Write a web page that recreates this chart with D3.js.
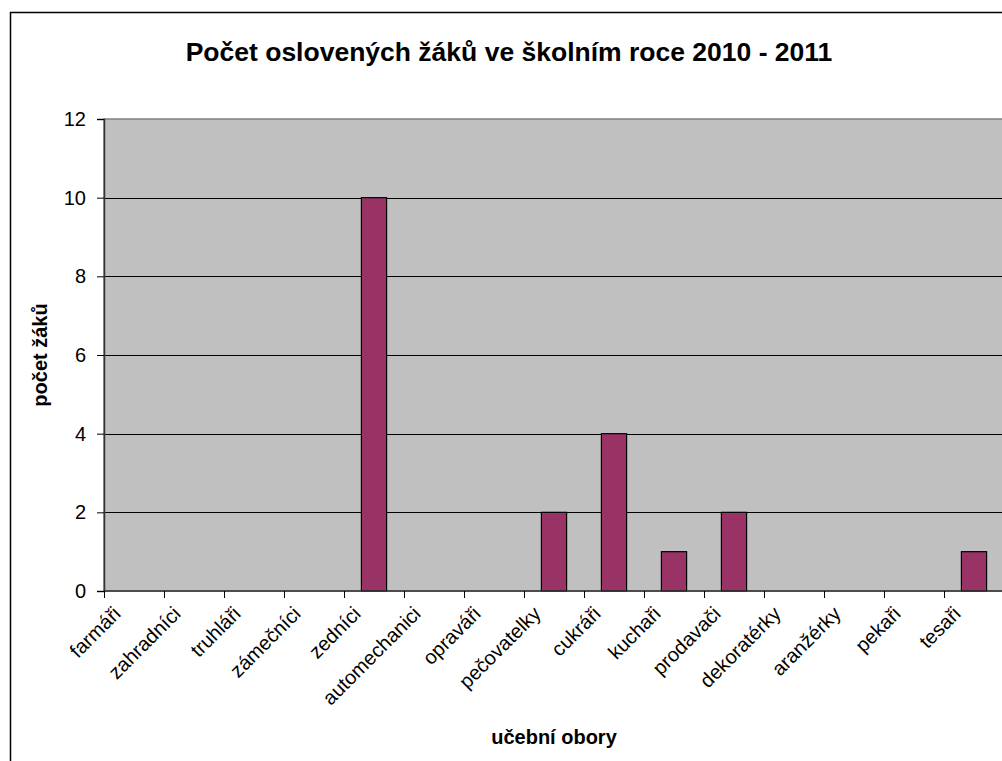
<!DOCTYPE html>
<html>
<head>
<meta charset="utf-8">
<script src="https://cdn.jsdelivr.net/npm/d3@7"></script>
<style>
  body { margin: 0; background: #fff; }
  text { font-family: "Liberation Sans", Arial, sans-serif; fill: #000; }
</style>
</head>
<body>
<div id="chart"></div>
<script>
const categories = ['farmáři', 'zahradníci', 'truhláři', 'zámečníci', 'zedníci', 'automechanici',
  'opraváři', 'pečovatelky', 'cukráři', 'kuchaři', 'prodavači', 'dekoratérky', 'aranžérky', 'pekaři', 'tesaři']
const values = [0, 0, 0, 0, 10, 0, 0, 2, 4, 1, 2, 0, 0, 0, 1]
const yTicks = [0, 2, 4, 6, 8, 10, 12]
const title = 'Počet oslovených žáků ve školním roce 2010 - 2011'
const xTitle = 'učební obory'
const yTitle = 'počet žáků'

const svgWidth = 1002
const svgHeight = 761
const plotL = 104, plotR = 1004, plotT = 119, plotB = 591

let svg = d3.select('#chart')
  .append('svg')
  .attr('width', svgWidth)
  .attr('height', svgHeight)

// outer chart frame (runs past the window on right and bottom)
svg.append('rect')
  .attr('x', 10.5).attr('y', 12.5)
  .attr('width', 1100).attr('height', 900)
  .attr('fill', '#fff')
  .attr('stroke', '#000')
  .attr('stroke-width', 1.5)

// category slots, and bars inside them
let xCat = d3.scaleBand().domain(categories).range([plotL, plotR]).padding(0)
let xBar = d3.scaleBand().domain(categories).range([plotL, plotR])
  .paddingInner(0.58).paddingOuter(0.29)

let yScale = d3.scaleLinear().domain([0, 12]).range([plotB, plotT])

// plot background
svg.append('rect')
  .attr('x', plotL).attr('y', plotT)
  .attr('width', plotR - plotL).attr('height', plotB - plotT)
  .attr('fill', '#c0c0c0')
  .attr('stroke', '#808080')
  .attr('stroke-width', 1.5)

// gridlines
svg.append('g')
  .selectAll('line')
  .data(yTicks.filter(d => d > 0 && d < 12))
  .enter().append('line')
  .attr('x1', plotL).attr('x2', plotR)
  .attr('y1', d => Math.round(yScale(d)) + 0.5)
  .attr('y2', d => Math.round(yScale(d)) + 0.5)
  .attr('stroke', '#000')

// bars
svg.append('g')
  .selectAll('rect')
  .data(values.map((v, i) => ({ c: categories[i], v: v })).filter(d => d.v > 0))
  .enter().append('rect')
  .attr('x', d => xBar(d.c))
  .attr('y', d => yScale(d.v))
  .attr('width', xBar.bandwidth())
  .attr('height', d => yScale(0) - yScale(d.v))
  .attr('fill', '#993366')
  .attr('stroke', '#000')
  .attr('stroke-width', 1.2)

// y axis
let yAxis = svg.append('g')
  .attr('transform', 'translate(' + plotL + ',0)')
  .call(d3.axisLeft(yScale).tickValues(yTicks).tickSize(7).tickPadding(11).tickFormat(d3.format('d')))
yAxis.select('.domain').attr('stroke', '#333').attr('stroke-width', 1.5)
yAxis.selectAll('.tick line').attr('stroke', '#000')
yAxis.selectAll('.tick text')
  .style('font-family', '"Liberation Sans", Arial, sans-serif')
  .style('font-size', '20px')
  .attr('fill', '#000')

// x axis line and ticks between categories
let xAxis = svg.append('g')
xAxis.append('line')
  .attr('x1', plotL).attr('x2', plotR)
  .attr('y1', plotB).attr('y2', plotB)
  .attr('stroke', '#333').attr('stroke-width', 1.5)
xAxis.selectAll('line.tk')
  .data(categories.concat(['end']))
  .enter().append('line')
  .attr('class', 'tk')
  .attr('x1', d => d === 'end' ? plotR : Math.round(xCat(d)) + 0.5)
  .attr('x2', d => d === 'end' ? plotR : Math.round(xCat(d)) + 0.5)
  .attr('y1', plotB).attr('y2', plotB + 7)
  .attr('stroke', '#000')

xAxis.selectAll('text')
  .data(categories)
  .enter().append('text')
  .attr('transform', d => 'translate(' + (xCat(d) + xCat.bandwidth() / 2 - 12) + ',' + (plotB + 24) + ') rotate(-45)')
  .attr('text-anchor', 'end')
  .style('font-size', '20px')
  .text(d => d)

// titles
svg.append('text')
  .attr('x', 509).attr('y', 61)
  .attr('text-anchor', 'middle')
  .style('font-size', '26.5px').style('font-weight', 'bold')
  .text(title)

svg.append('text')
  .attr('x', (plotL + plotR) / 2).attr('y', 744)
  .attr('text-anchor', 'middle')
  .style('font-size', '20px').style('font-weight', 'bold')
  .text(xTitle)

svg.append('text')
  .attr('transform', 'translate(47,' + (plotT + plotB) / 2 + ') rotate(-90)')
  .attr('text-anchor', 'middle')
  .style('font-size', '20px').style('font-weight', 'bold')
  .text(yTitle)
</script>
</body>
</html>
